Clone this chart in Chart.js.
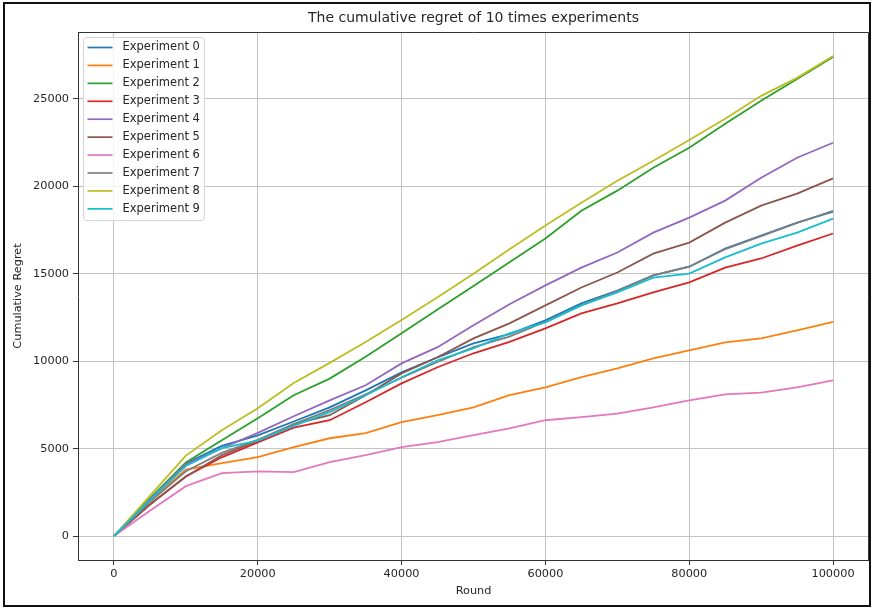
<!DOCTYPE html>
<html>
<head>
<meta charset="utf-8">
<title>The cumulative regret of 10 times experiments</title>
<script src="https://cdn.jsdelivr.net/npm/chart.js"></script>
<style>
  html, body { margin: 0; padding: 0; background: #fff; }
  #wrap { width: 872px; height: 608px; }
</style>
</head>
<body>
<div id="wrap"><canvas id="regretChart" width="872" height="608"></canvas></div>
<script>
// rounds sampled every 5000
const rounds = [0, 5000, 10000, 15000, 20000, 25000, 30000, 35000, 40000, 45000, 50000,
                55000, 60000, 65000, 70000, 75000, 80000, 85000, 90000, 95000, 100000];

const exp0 = [0, 2100, 4150, 5150, 5750, 6550, 7360, 8330, 9360, 10220, 11020, 11550, 12330, 13300, 14040, 14900, 15400, 16440, 17180, 17920, 18550];
const exp1 = [0, 2000, 3800, 4170, 4510, 5080, 5590, 5880, 6510, 6910, 7360, 8050, 8500, 9080, 9590, 10160, 10620, 11070, 11300, 11760, 12250];
const exp2 = [0, 2150, 4200, 5480, 6740, 8050, 9000, 10250, 11600, 12950, 14300, 15650, 17010, 18600, 19750, 21060, 22200, 23570, 24890, 26140, 27400];
const exp3 = [0, 1800, 3400, 4500, 5350, 6200, 6620, 7650, 8730, 9650, 10450, 11100, 11870, 12730, 13300, 13930, 14500, 15350, 15870, 16610, 17300];
const exp4 = [0, 2100, 4100, 5020, 5900, 6850, 7760, 8620, 9870, 10800, 12050, 13250, 14330, 15350, 16210, 17350, 18210, 19180, 20490, 21630, 22490];
const exp5 = [0, 1800, 3400, 4620, 5450, 6400, 6910, 8050, 9300, 10220, 11300, 12160, 13190, 14210, 15070, 16150, 16780, 17920, 18890, 19580, 20450];
const exp6 = [0, 1450, 2850, 3600, 3700, 3650, 4220, 4620, 5080, 5370, 5770, 6150, 6620, 6800, 7000, 7350, 7760, 8100, 8200, 8500, 8900];
const exp7 = [0, 1950, 3700, 4750, 5500, 6400, 7200, 8100, 9050, 9950, 10800, 11400, 12250, 13200, 14000, 14900, 15400, 16400, 17150, 17900, 18600];
const exp8 = [0, 2300, 4600, 6050, 7300, 8750, 9900, 11100, 12350, 13650, 15000, 16400, 17750, 19060, 20320, 21460, 22650, 23860, 25170, 26200, 27450];
const exp9 = [0, 2050, 4000, 5020, 5450, 6300, 7080, 8050, 9080, 10050, 10730, 11590, 12220, 13190, 13930, 14780, 15010, 15930, 16720, 17350, 18150];

const series = [exp0, exp1, exp2, exp3, exp4, exp5, exp6, exp7, exp8, exp9];
const labels = series.map((_, i) => `Experiment ${i}`);
const colors = ['#1f77b4', '#ff7f0e', '#2ca02c', '#d62728', '#9467bd',
                '#8c564b', '#e377c2', '#7f7f7f', '#bcbd22', '#17becf'];

const xTicks = [0, 20000, 40000, 60000, 80000, 100000];
const yTicks = [0, 5000, 10000, 15000, 20000, 25000];

const FONT = 'DejaVu Sans';
const TEXT = '#262626';

// title, top/right spines, legend box and outer frame
const decorations = {
  id: 'decorations',
  afterDraw(chart) {
    const { ctx, chartArea: a } = chart;
    ctx.save();

    ctx.strokeStyle = '#333';
    ctx.lineWidth = 1;
    ctx.beginPath();
    ctx.moveTo(Math.round(a.left) + 0.5, Math.round(a.top) + 0.5);
    ctx.lineTo(Math.round(a.right) - 0.5, Math.round(a.top) + 0.5);
    ctx.lineTo(Math.round(a.right) - 0.5, Math.round(a.bottom));
    ctx.stroke();

    ctx.fillStyle = TEXT;
    ctx.font = `14px "${FONT}"`;
    ctx.textAlign = 'center';
    ctx.textBaseline = 'middle';
    ctx.fillText('The cumulative regret of 10 times experiments', (a.left + a.right) / 2, 18);

    const bx = a.left + 5.5, by = a.top + 5.5, bw = 121, bh = 183;
    ctx.beginPath();
    if (ctx.roundRect) ctx.roundRect(bx, by, bw, bh, 3); else ctx.rect(bx, by, bw, bh);
    ctx.fillStyle = 'rgba(255,255,255,0.8)';
    ctx.fill();
    ctx.strokeStyle = '#d4d4d4';
    ctx.stroke();

    ctx.font = `11.5px "${FONT}"`;
    ctx.textAlign = 'left';
    chart.data.datasets.forEach((ds, i) => {
      const cy = by + 10 + i * 17.93;
      ctx.strokeStyle = ds.borderColor;
      ctx.lineWidth = 1.7;
      ctx.beginPath();
      ctx.moveTo(bx + 4, cy);
      ctx.lineTo(bx + 29, cy);
      ctx.stroke();
      ctx.fillStyle = TEXT;
      ctx.fillText(ds.label, bx + 39, cy);
    });

    ctx.strokeStyle = '#111';
    ctx.lineWidth = 2;
    ctx.strokeRect(4, 3, 866, 603);
    ctx.restore();
  }
};

new Chart(document.getElementById('regretChart'), {
  type: 'line',
  data: {
    datasets: series.map((vals, i) => ({
      label: labels[i],
      data: vals.map((v, j) => ({ x: rounds[j], y: v })),
      borderColor: colors[i],
      backgroundColor: colors[i],
      borderWidth: 1.8,
      pointRadius: 0,
      tension: 0,
      fill: false,
      order: series.length - i,
    }))
  },
  options: {
    responsive: false,
    animation: false,
    layout: { padding: { top: 32, right: 3, bottom: 8, left: 6 } },
    plugins: {
      legend: { display: false },
      tooltip: { enabled: false },
      title: { display: false },
    },
    scales: {
      x: {
        type: 'linear',
        min: -5000,
        max: 105000,
        afterBuildTicks: s => { s.ticks = xTicks.map(v => ({ value: v })); },
        afterFit: s => { s.height = 40; },
        ticks: { callback: v => String(v), color: TEXT, font: { family: FONT, size: 11.3 }, padding: 2, maxRotation: 0 },
        grid: { color: '#c4c4c4', lineWidth: 1, tickLength: 5, tickColor: '#333' },
        border: { display: true, color: '#333', width: 1 },
        title: { display: true, text: 'Round', color: TEXT, font: { family: FONT, size: 11.3 }, padding: { top: 0, bottom: 2.2 } },
      },
      y: {
        type: 'linear',
        min: -1372,
        max: 28822,
        afterBuildTicks: s => { s.ticks = yTicks.map(v => ({ value: v })); },
        afterFit: s => { s.width = 72; },
        ticks: { callback: v => String(v), color: TEXT, font: { family: FONT, size: 11.3 }, padding: 4 },
        grid: { color: '#c4c4c4', lineWidth: 1, tickLength: 5, tickColor: '#333' },
        border: { display: true, color: '#333', width: 1 },
        title: { display: true, text: 'Cumulative Regret', color: TEXT, font: { family: FONT, size: 11.3 }, padding: { top: 5.2, bottom: 0 } },
      }
    }
  },
  plugins: [decorations]
});
</script>
</body>
</html>
